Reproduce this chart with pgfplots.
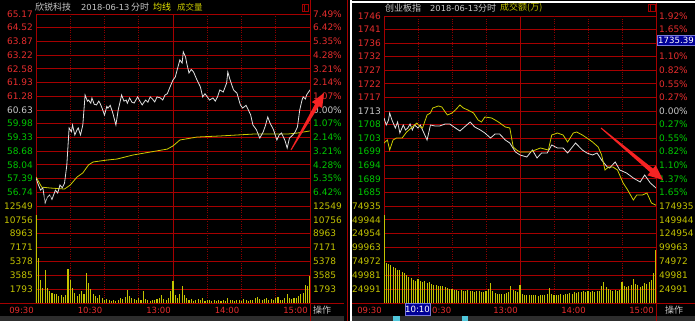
\documentclass[border=0pt]{standalone}
\usepackage{pgfplots}
\pgfplotsset{compat=1.18}
\usepackage{fontspec}
\setmainfont{DejaVu Sans}
\newfontfamily\cjk{Noto Sans CJK SC}
\usetikzlibrary{arrows.meta}
\definecolor{gridred}{RGB}{165,0,0}
\definecolor{dotred}{RGB}{140,0,0}
\definecolor{lblred}{RGB}{230,45,45}
\definecolor{lblgreen}{RGB}{0,200,0}
\definecolor{lblwhite}{RGB}{200,200,200}
\definecolor{lblyel}{RGB}{195,195,0}
\definecolor{titleyel}{RGB}{235,235,0}
\definecolor{linewhite}{RGB}{225,225,225}
\definecolor{lineyel}{RGB}{205,205,0}
\definecolor{barcol}{RGB}{195,195,0}
\definecolor{arrowred}{RGB}{245,35,35}
\definecolor{cursorblue}{RGB}{0,0,150}
\definecolor{cursoredge}{RGB}{120,120,220}
\definecolor{bandgray}{RGB}{45,45,45}
\definecolor{cyanblk}{RGB}{80,200,220}
\newcommand{\Rd}[1]{\textcolor{lblred}{#1}}
\newcommand{\Gn}[1]{\textcolor{lblgreen}{#1}}
\newcommand{\Wt}[1]{\textcolor{lblwhite}{#1}}
\newcommand{\Yl}[1]{\textcolor{lblyel}{#1}}
\newcommand{\lblfont}{\fontsize{9}{10}\selectfont}
\pgfplotsset{
  base/.style={scale only axis, xmin=0, xmax=240,
    major tick length=0pt, tick style={draw=none},
    yticklabel style={font=\lblfont, inner sep=0pt}},
  framed/.style={base,
    axis background/.style={fill=black},
    axis line style={gridred, line width=0.8pt},
    ymajorgrids, major grid style={gridred, line width=0.8pt},
    extra x ticks={30,60,90,150,180,210}, extra x tick labels={},
    extra x tick style={grid=major, major grid style={dotred, line width=0.7pt, dash pattern=on 1pt off 1.3pt}},
    yticklabel pos=left, yticklabel style={anchor=east, xshift=-3pt}},
  rightlab/.style={base, axis line style={draw=none}, xtick=\empty,
    yticklabel pos=right, yticklabel style={anchor=west, xshift=3pt}},
  timelab/.style={xtick={0,60,120,180,240},
    xticklabels={09:30,10:30,13:00,14:00,15:00},
    xticklabel style={font=\fontsize{8.5}{10}\selectfont, text=lblred, anchor=north east, inner sep=0pt, xshift=-2pt, yshift=-3.5pt}},
}
\begin{document}
\begin{tikzpicture}
\useasboundingbox (0,0) rectangle (695pt,321pt);
\fill[black] (0,0) rectangle (695pt,321pt);
\fill[bandgray] (0,0) rectangle (344pt,5.5pt);
\fill[bandgray] (351pt,0) rectangle (695pt,5.5pt);
\fill[cyanblk] (393pt,0) rectangle (400pt,5pt);
\fill[cyanblk] (462pt,0) rectangle (468pt,5pt);

% ================= LEFT PANEL =================
\begin{axis}[framed, at={(36pt,115pt)}, anchor=south west, width=274pt, height=192pt,
  ymin=56.087, ymax=65.173, xtick=\empty,
  ytick={56.736,57.385,58.034,58.683,59.332,59.981,60.63,61.279,61.928,62.577,63.226,63.875,64.524,65.173},
  yticklabels={\Gn{56.74},\Gn{57.39},\Gn{58.04},\Gn{58.68},\Gn{59.33},\Gn{59.98},\Wt{60.63},\Rd{61.28},\Rd{61.93},\Rd{62.58},\Rd{63.22},\Rd{63.87},\Rd{64.52},\Rd{65.17}}]
\draw[gridred, line width=0.8pt] (rel axis cs:0.5,0) -- (rel axis cs:0.5,1);
\addplot[lineyel, line width=0.8pt, mark=none] coordinates {(0,57.46)(5,56.98)(12,56.94)(25,56.89)(30,57.08)(36,57.46)(41,57.65)(46,58.03)(50,58.17)(62,58.26)(71,58.31)(85,58.50)(100,58.64)(115,58.78)(120,58.93)(126,59.21)(141,59.35)(161,59.40)(190,59.49)(220,59.49)(229,59.54)(240,59.64)};
\addplot[linewhite, line width=0.8pt, mark=none] coordinates {(0,57.41)(2,57.10)(4,56.84)(6,56.95)(8,56.23)(10,56.50)(12,56.61)(14,56.40)(17,56.84)(19,56.70)(21,57.08)(23,56.95)(25,57.17)(27,58.03)(29,59.78)(31,59.60)(32,59.92)(34,59.45)(36,59.70)(37,59.78)(39,59.45)(41,59.92)(43,61.34)(45,61.05)(46,61.10)(48,60.95)(49,61.20)(51,60.90)(53,60.87)(55,61.05)(56,60.96)(58,60.70)(60,60.39)(62,60.80)(63,60.72)(65,60.85)(67,60.54)(70,59.92)(72,60.63)(75,61.34)(77,61.05)(79,61.10)(80,60.95)(82,61.20)(84,61.00)(86,60.96)(89,61.25)(91,61.05)(93,60.87)(96,61.10)(98,61.00)(100,61.25)(102,61.15)(104,61.01)(106,61.25)(109,61.20)(111,61.10)(113,61.34)(115,61.40)(117,61.67)(120,62.05)(122,62.19)(124,62.60)(126,63.00)(128,62.85)(129,63.38)(131,63.14)(132,62.85)(134,62.38)(136,62.55)(138,62.43)(141,62.05)(144,61.72)(146,61.25)(148,61.40)(150,61.25)(152,61.10)(155,61.20)(157,61.05)(159,61.25)(161,61.58)(164,61.48)(167,61.91)(168,62.43)(170,62.05)(173,61.58)(176,61.43)(179,60.87)(181,60.72)(184,60.85)(186,60.63)(188,60.40)(190,59.92)(193,59.70)(196,59.30)(199,59.59)(201,59.90)(203,60.30)(205,60.01)(208,59.70)(211,59.21)(213,59.45)(215,59.54)(218,59.20)(220,58.83)(222,59.30)(225,59.45)(227,59.59)(229,59.83)(231,60.63)(233,61.10)(234,61.25)(236,61.15)(237,61.34)(240,61.58)};
\end{axis}
\begin{axis}[rightlab, at={(36pt,115pt)}, anchor=south west, width=274pt, height=192pt,
  ymin=56.087, ymax=65.173,
  ytick={56.736,57.385,58.034,58.683,59.332,59.981,60.63,61.279,61.928,62.577,63.226,63.875,64.524,65.173},
  yticklabels={\Gn{6.42\%},\Gn{5.35\%},\Gn{4.28\%},\Gn{3.21\%},\Gn{2.14\%},\Gn{1.07\%},\Wt{0.00\%},\Rd{1.07\%},\Rd{2.14\%},\Rd{3.21\%},\Rd{4.28\%},\Rd{5.35\%},\Rd{6.42\%},\Rd{7.49\%}}]
\end{axis}
\begin{axis}[framed, timelab, at={(36pt,18pt)}, anchor=south west, width=274pt, height=97pt,
  ymin=0, ymax=12549,
  ytick={1792.7,3585.4,5378.1,7170.9,8963.6,10756.3,12549},
  yticklabels={\Yl{1793},\Yl{3585},\Yl{5378},\Yl{7171},\Yl{8963},\Yl{10756},\Yl{12549}}]
\draw[gridred, line width=0.8pt] (rel axis cs:0.5,0) -- (rel axis cs:0.5,1);
\addplot[ycomb, barcol, line width=1.1pt, mark=none] coordinates {
(0,11400)(2,5800)(4,3000)(6,2000)(8,4300)(10,2000)(12,1600)(14,1300)(16,1100)(18,1200)
(20,900)(22,1000)(24,800)(26,1000)(28,4400)(30,3000)(32,2000)(34,1300)(36,900)(38,1200)
(40,1500)(42,1100)(44,3900)(46,2600)(48,1800)(50,1200)(52,900)(54,700)(56,1000)(58,600)
(60,400)(62,500)(64,350)(66,300)(68,400)(70,300)(72,450)(74,600)(76,500)(78,800)
(80,1700)(82,900)(84,600)(86,500)(88,450)(90,600)(92,400)(94,1600)(96,500)(98,350)
(100,300)(102,400)(104,350)(106,500)(108,600)(110,1000)(112,500)(114,450)(116,600)(118,1600)
(120,2800)(122,1000)(124,700)(126,1200)(128,2200)(130,1000)(132,600)(134,400)(136,500)(138,300)
(140,350)(142,500)(144,400)(146,600)(148,300)(150,350)(152,400)(154,300)(156,350)(158,300)
(160,400)(162,300)(164,350)(166,300)(168,700)(170,400)(172,350)(174,300)(176,350)(178,400)
(180,300)(182,500)(184,350)(186,300)(188,400)(190,350)(192,600)(194,800)(196,500)(198,400)
(200,500)(202,700)(204,450)(206,500)(208,400)(210,600)(212,800)(214,450)(216,400)(218,600)
(220,1200)(222,600)(224,500)(226,700)(228,600)(230,900)(232,1100)(234,1300)(236,2300)(238,2200)
(240,3500)};
\end{axis}
\begin{axis}[rightlab, at={(36pt,18pt)}, anchor=south west, width=274pt, height=97pt,
  ymin=0, ymax=12549,
  ytick={1792.7,3585.4,5378.1,7170.9,8963.6,10756.3,12549},
  yticklabels={\Yl{1793},\Yl{3585},\Yl{5378},\Yl{7171},\Yl{8963},\Yl{10756},\Yl{12549}}]
\end{axis}
\draw[gridred, line width=0.8pt] (0,18pt) -- (344pt,18pt);
\draw[gridred, line width=0.8pt] (310pt,0) -- (310pt,321pt);
\draw[gridred, line width=0.7pt] (302pt,310pt) rectangle (308pt,317pt);
\draw[gridred, line width=0.7pt] (304pt,310pt) -- (304pt,317pt);
\node[anchor=west, inner sep=0pt, text=lblwhite, font=\cjk\fontsize{9}{10}\selectfont] at (35pt,314pt) {欣锐科技};
\node[anchor=west, inner sep=0pt, text=lblwhite, font=\fontsize{8.3}{10}\selectfont] at (81pt,314pt) {2018-06-13};
\node[anchor=west, inner sep=0pt, text=lblwhite, font=\cjk\fontsize{9}{10}\selectfont] at (131pt,314pt) {分时};
\node[anchor=west, inner sep=0pt, text=titleyel, font=\cjk\fontsize{9}{10}\selectfont] at (153pt,314pt) {均线};
\node[anchor=west, inner sep=0pt, text=lblyel, font=\cjk\fontsize{8.5}{10}\selectfont] at (177pt,314pt) {成交量};
\node[anchor=west, inner sep=0pt, text=lblwhite, font=\cjk\fontsize{9}{10}\selectfont] at (313pt,11pt) {操作};
\fill[arrowred] (290.57pt,171.25pt) -- (315.09pt,216.99pt) -- (311.80pt,218.90pt) -- (324pt,228pt) -- (322.18pt,212.88pt) -- (318.89pt,214.79pt) -- (291.43pt,170.75pt) -- cycle;

% ================= RIGHT PANEL =================
\begin{axis}[framed, at={(384pt,115pt)}, anchor=south west, width=272pt, height=190pt,
  ymin=1680.03, ymax=1745.97, xtick=\empty,
  ytick={1684.74,1689.45,1694.16,1698.87,1703.58,1708.29,1713,1717.71,1722.42,1727.13,1731.84,1736.55,1741.26,1745.97},
  yticklabels={\Gn{1685},\Gn{1689},\Gn{1694},\Gn{1699},\Gn{1703},\Gn{1708},\Wt{1713},\Rd{1717},\Rd{1722},\Rd{1727},\Rd{1732},\Rd{1736},\Rd{1741},\Rd{1746}}]
\draw[gridred, line width=0.8pt] (rel axis cs:0.5,0) -- (rel axis cs:0.5,1);
\addplot[linewhite, line width=0.8pt, mark=none] coordinates {(0,1710.57)(2,1708.14)(4,1709.88)(5,1712.31)(7,1709.88)(10,1707.10)(12,1709.18)(14,1705.36)(17,1708.14)(19,1706.41)(21,1707.10)(23,1708.49)(25,1706.41)(27,1708.14)(30,1707.10)(32,1708.14)(34,1706.41)(38,1702.93)(41,1708.14)(45,1707.79)(49,1707.79)(54,1708.49)(58,1708.49)(63,1707.10)(67,1706.06)(71,1707.45)(76,1709.18)(80,1707.45)(85,1706.41)(89,1705.36)(94,1703.63)(98,1705.02)(102,1705.02)(107,1702.93)(111,1701.89)(116,1698.77)(120,1697.73)(126,1697.03)(131,1699.46)(135,1696.69)(139,1698.42)(144,1698.42)(148,1701.20)(153,1700.16)(158,1700.16)(162,1698.42)(169,1701.89)(175,1699.46)(179,1698.42)(184,1697.73)(188,1698.42)(192,1695.99)(197,1693.56)(199,1693.22)(204,1695.30)(208,1692.52)(214,1691.48)(220,1689.74)(226,1688.36)(230,1690.79)(235,1688.01)(240,1686.27)};
\addplot[lineyel, line width=0.8pt, mark=none] coordinates {(0,1701.89)(3,1702.93)(5,1699.46)(8,1702.93)(11,1703.63)(16,1703.63)(20,1705.71)(25,1707.45)(29,1708.83)(32,1707.45)(34,1707.10)(38,1711.61)(41,1712.31)(43,1714.04)(48,1714.74)(51,1714.39)(54,1712.65)(56,1711.61)(60,1712.31)(63,1713.35)(67,1715.08)(70,1714.04)(74,1713.35)(79,1712.31)(83,1709.88)(86,1709.18)(89,1710.92)(95,1710.57)(101,1709.18)(107,1707.45)(111,1707.10)(114,1700.50)(117,1699.46)(120,1698.77)(129,1698.77)(138,1700.16)(145,1699.46)(148,1704.67)(153,1705.36)(158,1704.67)(162,1702.24)(167,1705.36)(170,1705.71)(175,1704.67)(179,1703.63)(184,1702.24)(189,1700.50)(192,1697.73)(195,1692.52)(198,1693.56)(202,1693.56)(206,1692.52)(211,1688.01)(215,1685.58)(220,1682.11)(223,1683.84)(228,1683.84)(232,1684.54)(236,1681.07)(240,1680.30)};
\end{axis}
\begin{axis}[rightlab, at={(384pt,115pt)}, anchor=south west, width=272pt, height=190pt,
  ymin=1680.03, ymax=1745.97,
  ytick={1684.74,1689.45,1694.16,1698.87,1703.58,1708.29,1713,1717.71,1722.42,1727.13,1731.84,1741.26,1745.97},
  yticklabels={\Gn{1.65\%},\Gn{1.37\%},\Gn{1.10\%},\Gn{0.82\%},\Gn{0.55\%},\Gn{0.27\%},\Wt{0.00\%},\Rd{0.27\%},\Rd{0.55\%},\Rd{0.82\%},\Rd{1.10\%},\Rd{1.65\%},\Rd{1.92\%}}]
\end{axis}
\begin{axis}[framed, timelab, at={(384pt,18pt)}, anchor=south west, width=272pt, height=97pt,
  ymin=0, ymax=174935,
  scaled y ticks=false,
  xticklabels={09:30,,13:00,14:00,15:00},
  ytick={24990.7,49981.4,74972.1,99962.9,124953.6,149944.3,174935},
  yticklabels={\Yl{24991},\Yl{49981},\Yl{74972},\Yl{99963},\Yl{124954},\Yl{149944},\Yl{174935}}]
\draw[gridred, line width=0.8pt] (rel axis cs:0.5,0) -- (rel axis cs:0.5,1);
\addplot[ycomb, barcol, line width=1.1pt, mark=none] coordinates {
(0,158700)(2,72000)(4,70000)(6,68000)(8,65000)(10,63000)(12,60000)(14,59000)(16,56000)(18,55000)
(20,50000)(22,47000)(24,45000)(26,42000)(28,40000)(30,43000)(32,40000)(34,38000)(36,39000)(38,36000)
(40,37000)(42,34000)(44,33000)(46,32000)(48,31000)(50,30000)(52,31000)(54,28000)(56,27000)(58,26000)
(60,25000)(62,23000)(64,24000)(66,22000)(68,23000)(70,21000)(72,22000)(74,23000)(76,21000)(78,22000)
(80,20000)(82,21000)(84,22000)(86,20000)(88,19000)(90,21000)(92,26000)(94,36000)(96,22000)(98,18000)
(100,17000)(102,16000)(104,17000)(106,16000)(108,18000)(110,20000)(112,30000)(114,24000)(116,21000)(118,19000)
(120,32000)(122,17000)(124,15000)(126,14000)(128,15000)(130,14000)(132,15000)(134,14000)(136,13000)(138,14000)
(140,15000)(142,14000)(144,16000)(146,27000)(148,17000)(150,15000)(152,14000)(154,15000)(156,16000)(158,15000)
(160,17000)(162,16000)(164,18000)(166,17000)(168,19000)(170,18000)(172,20000)(174,19000)(176,21000)(178,20000)
(180,22000)(182,20000)(184,21000)(186,19000)(188,22000)(190,21000)(192,30000)(194,38000)(196,29000)(198,25000)
(200,23000)(202,22000)(204,24000)(206,21000)(208,23000)(210,38000)(212,31000)(214,29000)(216,30000)(218,33000)
(220,43000)(222,35000)(224,32000)(226,29000)(228,31000)(230,36000)(232,34000)(234,38000)(236,42000)(238,54000)
(240,95000)};
\end{axis}
\begin{axis}[rightlab, at={(384pt,18pt)}, anchor=south west, width=272pt, height=97pt,
  ymin=0, ymax=174935, scaled y ticks=false,
  ytick={24990.7,49981.4,74972.1,99962.9,124953.6,149944.3,174935},
  yticklabels={\Yl{24991},\Yl{49981},\Yl{74972},\Yl{99963},\Yl{124954},\Yl{149944},\Yl{174935}}]
\end{axis}
\draw[gridred, line width=0.8pt] (351pt,18pt) -- (695pt,18pt);
\draw[gridred, line width=0.8pt] (656pt,0) -- (656pt,318pt);
\draw[gridred, line width=0.7pt] (648pt,310pt) rectangle (655pt,317pt);
\draw[gridred, line width=0.7pt] (650pt,310pt) -- (650pt,317pt);
\node[anchor=west, inner sep=0pt, text=lblwhite, font=\cjk\fontsize{9}{10}\selectfont] at (385pt,313pt) {创业板指};
\node[anchor=west, inner sep=0pt, text=lblwhite, font=\fontsize{8.3}{10}\selectfont] at (430pt,313pt) {2018-06-13};
\node[anchor=west, inner sep=0pt, text=lblwhite, font=\cjk\fontsize{9}{10}\selectfont] at (478pt,313pt) {分时};
\node[anchor=west, inner sep=0pt, text=lblyel, font=\cjk\fontsize{9}{10}\selectfont] at (500pt,313pt) {成交额(万)};
\node[anchor=west, inner sep=0pt, text=lblwhite, font=\cjk\fontsize{9}{10}\selectfont] at (665pt,11pt) {操作};
\node[fill=cursorblue, draw=cursoredge, line width=0.6pt, text=white, inner sep=0pt, minimum width=38pt, minimum height=9.5pt, font=\fontsize{8.6}{10}\selectfont] at (676pt,280.5pt) {1735.39};
\node[fill=cursorblue, draw=cursoredge, line width=0.6pt, text=white, inner sep=0pt, minimum width=25pt, minimum height=12pt, font=\fontsize{8.6}{10}\selectfont] at (417.5pt,12pt) {10:10};
\node[anchor=west, inner sep=0pt, text=lblred, font=\fontsize{8.5}{10}\selectfont] at (432pt,11pt) {0:30};
\fill[arrowred] (601.32pt,193.38pt) -- (652.99pt,152.40pt) -- (655.69pt,155.62pt) -- (663pt,141pt) -- (647.33pt,145.66pt) -- (650.03pt,148.88pt) -- (600.68pt,192.62pt) -- cycle;

% separator
\fill[black] (344pt,0) rectangle (350pt,321pt);
\draw[gridred, line width=0.8pt] (347pt,0) -- (347pt,321pt);
\fill[white] (350pt,0) rectangle (351.5pt,321pt);
\fill[white] (350pt,318pt) rectangle (695pt,319.5pt);
\end{tikzpicture}
\end{document}
